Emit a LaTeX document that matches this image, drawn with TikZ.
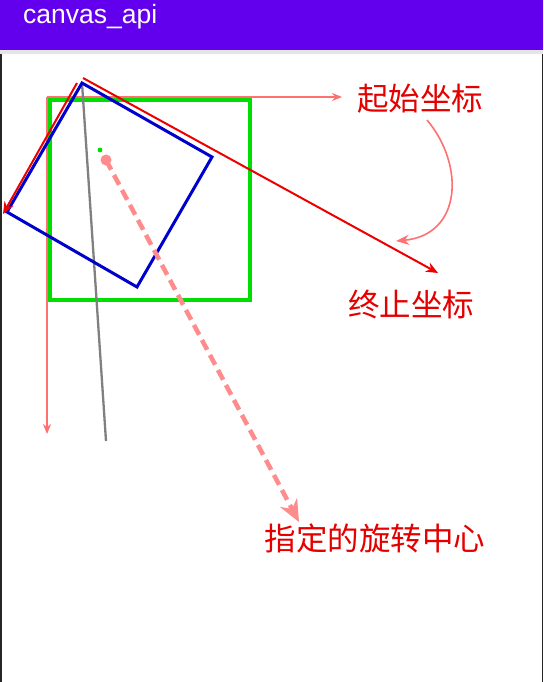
\documentclass[tikz,border=0pt]{standalone}
\usepackage{fontspec}
\setmainfont{Liberation Sans}
\newfontfamily\cjk{Noto Sans CJK SC}
\usetikzlibrary{arrows.meta}
\definecolor{barpurple}{HTML}{6200EE}
\definecolor{axisred}{HTML}{FF7070}
\definecolor{linered}{HTML}{EE0000}
\definecolor{sqgreen}{HTML}{00DD00}
\definecolor{sqblue}{HTML}{0000CC}
\definecolor{pinkc}{HTML}{FF8C8C}
\tikzset{
  lbl/.style={font=\cjk\fontsize{31.5}{35}\selectfont, text=red!90!black, inner sep=0pt},
  axisarrow/.style={axisred, line width=1.5pt, -{Stealth[length=10pt,width=8pt]}},
  redarrow/.style={linered, line width=2pt, -{Stealth[length=12pt,width=10pt]}},
}
\begin{document}
\begin{tikzpicture}[x=1pt,y=-1pt]
\useasboundingbox (0,0) rectangle (543,682);
\fill[white] (0,0) rectangle (543,682);
% side borders
\fill[black!85] (0,50) rectangle (1.5,682);
\fill[black!85] (541.5,50) rectangle (543,682);
% app bar
\fill[black!10] (0,50) rectangle (543,54);
\fill[barpurple] (0,0) rectangle (543,50);
\node[anchor=base west, text=white, font=\fontsize{26.5}{30}\selectfont, inner sep=0pt] (title) at (23,24) {canvas\_api};

% coordinates
\coordinate (o) at (47,97);
\coordinate (xend) at (342,97);
\coordinate (yend) at (47,434);
\coordinate (A) at (82,83);
\coordinate (B) at (212,157);
\coordinate (C) at (137,287);
\coordinate (D) at (7,212);

% axes
\draw[axisarrow] (o) -- (xend);
\draw[axisarrow] (o) -- (yend);

% green square
\draw[sqgreen, line width=3.2pt] (50,100) rectangle (250,300);

% gray line
\coordinate (g2) at (106,441);
\draw[gray, line width=2.3pt] (A) -- (g2);

% blue rotated square
\draw[sqblue, line width=3pt, line join=miter] (A) -- (B) -- (C) -- (D) -- cycle;

% red arrows
\coordinate (r1s) at (83,78);
\coordinate (r1e) at (438,273);
\draw[redarrow] (r1s) -- (r1e);
\coordinate (r2s) at (77,83);
\coordinate (r2e) at (3,214);
\draw[redarrow] (r2s) -- (r2e);

% dots
\fill[sqgreen] (100,150) circle (2.4);
\node[circle, fill=pinkc, minimum size=11pt, inner sep=0pt] (pc) at (106,160) {};
\coordinate (ptip) at (299,522);
\draw[pinkc, line width=4.5pt, dash pattern=on 11pt off 6pt, -{Stealth[length=22pt,width=19pt]}] (pc.center) -- (ptip);

% labels
\node[lbl] (start) at (420,99) {起始坐标};
\node[lbl] (stop) at (411,304) {终止坐标};
\node[lbl] (center) at (375,538) {指定的旋转中心};

% curved arrow
\coordinate (cs) at (427,120);
\coordinate (ce) at (396,241);
\draw[axisred, line width=1.6pt, -{Stealth[length=13pt,width=10pt]}] (cs) .. controls (465,165) and (462,235) .. (ce);
\end{tikzpicture}
\end{document}
